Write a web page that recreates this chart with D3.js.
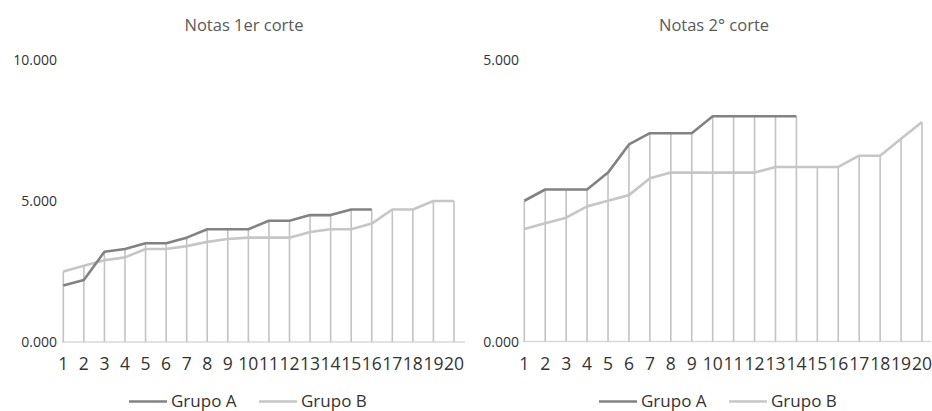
<!DOCTYPE html>
<html>
<head>
<meta charset="utf-8">
<script src="https://cdn.jsdelivr.net/npm/d3@7"></script>
<style>
  html, body { margin: 0; padding: 0; background: #fff; }
  svg { display: block; font-family: "Open Sans", "Noto Sans", sans-serif; }
</style>
</head>
<body>
<svg id="chart" width="932" height="411"></svg>
<script>
// Students numbered 1..20
const categories = d3.range(1, 21).map(String);

// First grading period
const corte1GrupoA = [2.0, 2.2, 3.2, 3.3, 3.5, 3.5, 3.7, 4.0, 4.0, 4.0, 4.3, 4.3, 4.5, 4.5, 4.7, 4.7];
const corte1GrupoB = [2.5, 2.7, 2.9, 3.0, 3.3, 3.3, 3.4, 3.55, 3.65, 3.7, 3.7, 3.7, 3.9, 4.0, 4.0, 4.2, 4.7, 4.7, 5.0, 5.0];
const corte1Ticks = [0, 5, 10];

// Second grading period
const corte2GrupoA = [2.5, 2.7, 2.7, 2.7, 3.0, 3.5, 3.7, 3.7, 3.7, 4.0, 4.0, 4.0, 4.0, 4.0];
const corte2GrupoB = [2.0, 2.1, 2.2, 2.4, 2.5, 2.6, 2.9, 3.0, 3.0, 3.0, 3.0, 3.0, 3.1, 3.1, 3.1, 3.1, 3.3, 3.3, 3.6, 3.9];
const corte2Ticks = [0, 5];

const seriesNames = ["Grupo A", "Grupo B"];
const seriesColors = ["#828282", "#c6c6c6"];
const dropColor = "#c3c3c3";
const axisColor = "#d9d9d9";

const svg = d3.select("#chart");
const fmt = d3.format(".3f");

function drawPanel(opts) {
  const g = svg.append("g");
  const x = d3.scalePoint().domain(categories).range([opts.x0, opts.x1]);
  const y = d3.scaleLinear().domain([0, opts.yMax]).range([opts.yBottom, opts.yTop]);

  // title
  g.append("text")
    .attr("x", opts.titleX).attr("y", 30.5)
    .attr("text-anchor", "middle")
    .attr("font-size", 16.5).attr("fill", "#595959")
    .text(opts.title);

  // y tick labels
  g.selectAll(".ylab").data(opts.ticks).join("text")
    .attr("x", opts.yLabelX).attr("y", d => y(d) + 5)
    .attr("text-anchor", "end")
    .attr("font-size", 14).attr("fill", "#333")
    .text(d => fmt(d));

  // category axis line
  g.append("line")
    .attr("x1", opts.axisX0).attr("x2", opts.axisX1)
    .attr("y1", y(0)).attr("y2", y(0))
    .attr("stroke", axisColor).attr("stroke-width", 1.5);

  // x tick labels
  g.selectAll(".xlab").data(categories).join("text")
    .attr("x", d => x(d)).attr("y", 370)
    .attr("text-anchor", "middle")
    .attr("font-size", 17.5).attr("fill", "#333")
    .text(d => d);

  const series = [opts.a, opts.b];

  // drop lines from the highest point of each category
  const tops = categories.map((c, i) => {
    const vals = series.map(s => s[i]).filter(v => v !== undefined);
    return { c, v: d3.max(vals) };
  });
  g.selectAll(".drop").data(tops).join("line")
    .attr("x1", d => x(d.c)).attr("x2", d => x(d.c))
    .attr("y1", d => y(d.v)).attr("y2", y(0))
    .attr("stroke", dropColor).attr("stroke-width", 1.6);

  const line = d3.line().x((d, i) => x(categories[i])).y(d => y(d));
  // lighter series underneath
  [1, 0].forEach(k => {
    g.append("path")
      .attr("d", line(series[k]))
      .attr("fill", "none")
      .attr("stroke", seriesColors[k])
      .attr("stroke-width", 2.6)
      .attr("stroke-linejoin", "round");
  });

  // legend
  opts.legendX.forEach((lx, k) => {
    g.append("line")
      .attr("x1", lx).attr("x2", lx + 38)
      .attr("y1", 401.5).attr("y2", 401.5)
      .attr("stroke", seriesColors[k]).attr("stroke-width", 2.6);
    g.append("text")
      .attr("x", lx + 42).attr("y", 406.5)
      .attr("font-size", 17).attr("fill", "#333")
      .text(seriesNames[k]);
  });
}

drawPanel({
  title: "Notas 1er corte", titleX: 244,
  a: corte1GrupoA, b: corte1GrupoB, ticks: corte1Ticks, yMax: 10,
  x0: 63.3, x1: 454, axisX0: 62, axisX1: 465,
  yTop: 60, yBottom: 342, yLabelX: 57,
  legendX: [129, 259]
});

drawPanel({
  title: "Notas 2\u00b0 corte", titleX: 714,
  a: corte2GrupoA, b: corte2GrupoB, ticks: corte2Ticks, yMax: 5,
  x0: 524.3, x1: 922, axisX0: 523, axisX1: 931,
  yTop: 60, yBottom: 341.5, yLabelX: 519,
  legendX: [599, 729]
});
</script>
</body>
</html>
